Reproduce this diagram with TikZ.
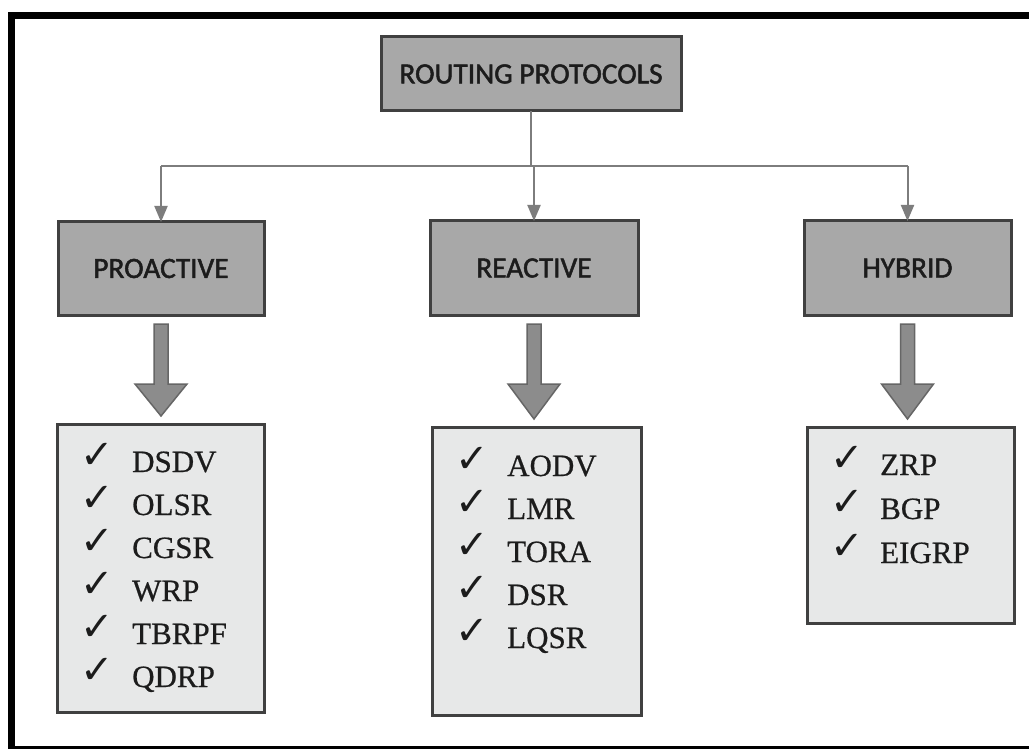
\documentclass[tikz,border=0pt]{standalone}
\usepackage{fontspec}
\setmainfont{Liberation Serif}[FakeBold=0.6]
\newfontfamily\headfont{Carlito}[FakeBold=1.6]
\newfontfamily\symfont{DejaVu Sans}
\usetikzlibrary{calc,arrows.meta}

\definecolor{headfill}{RGB}{168,168,168}
\definecolor{listfill}{RGB}{231,232,232}
\definecolor{edgegray}{RGB}{64,64,64}
\definecolor{linkgray}{RGB}{125,125,125}
\definecolor{bigarrow}{RGB}{140,140,140}
\definecolor{inkcol}{RGB}{28,28,28}

\tikzset{
  x=1pt, y=-1pt,
  headbox/.style={draw=edgegray, line width=3pt, fill=headfill, inner sep=0pt,
    outer sep=0pt, text=inkcol, font=\headfont\fontsize{29.4}{32}\selectfont},
  listbox/.style={draw=edgegray, line width=3pt, fill=listfill, inner sep=0pt, outer sep=0pt},
  itemtext/.style={anchor=base west, inner sep=0pt, text=inkcol,
    font=\fontsize{31}{36}\selectfont},
  checkmark/.style={anchor=base west, inner sep=0pt, text=inkcol,
    font=\symfont\fontsize{40}{44}\selectfont},
  link/.style={draw=linkgray, line width=2pt},
  linkarrow/.style={link, -{Triangle[length=16pt,width=13pt]}, color=linkgray},
  fatarrow/.style={fill=bigarrow, draw=edgegray!80, line width=1.5pt, line join=miter}
}

\begin{document}
\begin{tikzpicture}
\useasboundingbox (0,0) rectangle (1029,749);
\fill[white] (0,0) rectangle (1029,749);

% frame
\fill[black] (8,12) rectangle (1029,19);
\fill[black] (8,12) rectangle (15,749);
\fill[black] (8,746) rectangle (1029,749);

% top level and categories
\node[headbox, minimum width=300pt, minimum height=74pt] (root) at (531,74) {ROUTING PROTOCOLS};
\node[headbox, minimum width=206pt, minimum height=93pt] (pro) at (161,268.5) {PROACTIVE};
\node[headbox, minimum width=208pt, minimum height=94pt] (rea) at (534,268) {REACTIVE};
\node[headbox, minimum width=207pt, minimum height=94pt] (hyb) at (907.5,268) {HYBRID};

% protocol lists
\node[listbox, minimum width=207pt, minimum height=288pt] (plist) at (160.5,568) {};
\node[listbox, minimum width=209pt, minimum height=288pt] (rlist) at (536.5,571) {};
\node[listbox, minimum width=207pt, minimum height=196pt] (hlist) at (910.5,525) {};

\foreach \t [count=\i] in {DSDV,OLSR,CGSR,WRP,TBRPF,QDRP}{
  \node[checkmark] (pc\i) at ($(plist.north west)+(23,44+43*\i-43)$) {✓};
  \node[itemtext] (pi\i) at ($(plist.north west)+(75,48+43*\i-43)$) {\t};
}
\foreach \t [count=\i] in {AODV,LMR,TORA,DSR,LQSR}{
  \node[checkmark] (rc\i) at ($(rlist.north west)+(23,45+43*\i-43)$) {✓};
  \node[itemtext] (ri\i) at ($(rlist.north west)+(75,49+43*\i-43)$) {\t};
}
\foreach \t [count=\i] in {ZRP,BGP,EIGRP}{
  \node[checkmark] (hc\i) at ($(hlist.north west)+(23,44+44*\i-44)$) {✓};
  \node[itemtext] (hi\i) at ($(hlist.north west)+(73,48+44*\i-44)$) {\t};
}

% branching connectors
\coordinate (bus) at (0,166);
\draw[link] (root.south) -- (root.south |- bus);
\draw[link] (pro.north |- bus) -- (hyb.north |- bus);
\draw[linkarrow] (pro.north |- bus) -- (pro.north);
\draw[linkarrow] (rea.north |- bus) -- (rea.north);
\draw[linkarrow] (hyb.north |- bus) -- (hyb.north);

% block arrows from category to list
\foreach \a/\b in {pro/plist,rea/rlist,hyb/hlist}{
  \coordinate (s\a) at (\a.south);
  \coordinate (t\a) at (\a.south |- \b.north);
  \draw[fatarrow]
    ($(s\a)+(-7,9)$) -- ($(s\a)+(7,9)$) -- ($(s\a)+(7,69)$) -- ($(s\a)+(26,69)$)
    -- ($(t\a)+(0,-8)$) -- ($(s\a)+(-26,69)$) -- ($(s\a)+(-7,69)$) -- cycle;
}
\end{tikzpicture}
\end{document}
